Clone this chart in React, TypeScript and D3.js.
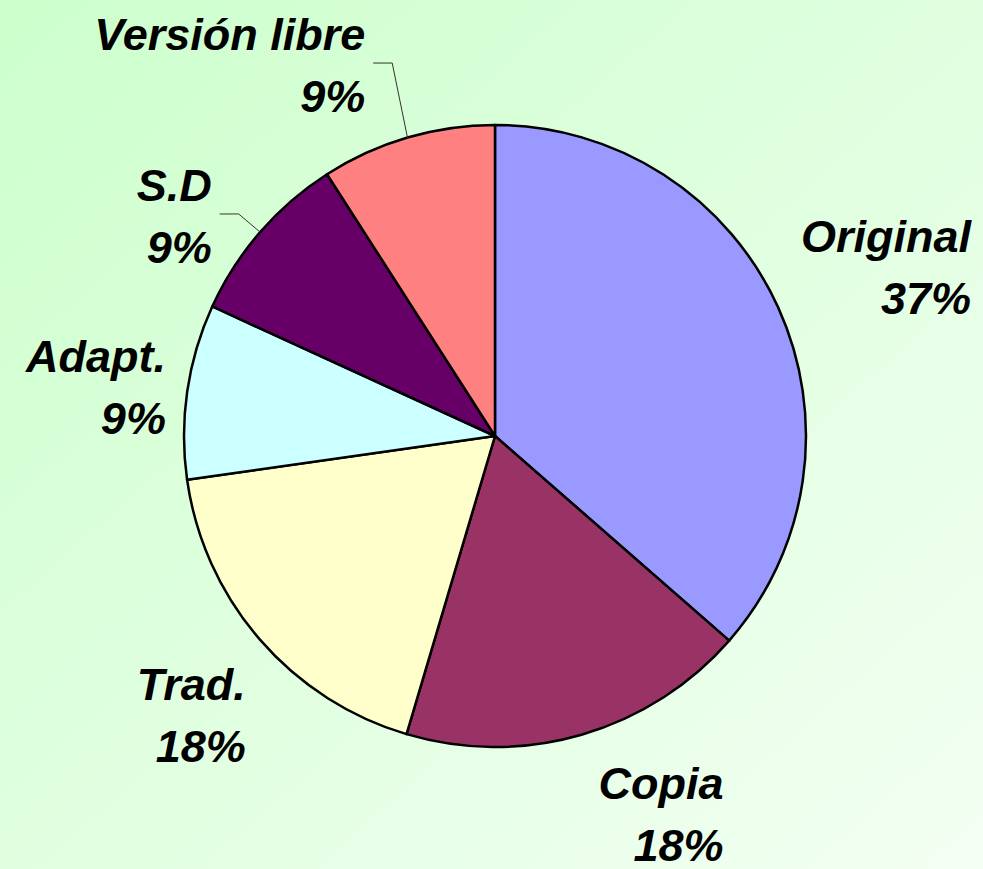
import React, { useEffect, useRef } from 'react';
import * as d3 from 'd3';

const categories = ['Original', 'Copia', 'Trad.', 'Adapt.', 'S.D', 'Versión libre'];
const shares = [36.5, 18.2, 18.2, 9.1, 9.1, 9.1];
const pctLabels = ['37%', '18%', '18%', '9%', '9%', '9%'];
const colors = ['#9999ff', '#993366', '#ffffcc', '#ccffff', '#660066', '#ff8080'];

// label anchor (right edge, first baseline) relative to the centroid at 1.3r
const labelNudge = [[108, -17], [116, -25], [57, 0], [71, -6], [22, 30], [-16, 2]];
const hasLeader = [false, false, false, false, true, true];

const App = () => {
    const ref = useRef<SVGSVGElement>(null);

    useEffect(() => {
        const width = 983;
        const height = 869;
        const cx = 495;
        const cy = 436;
        const r = 311;

        const svg = d3.select(ref.current);
        svg.selectAll('*').remove();

        const defs = svg.append('defs');
        const grad = defs.append('linearGradient')
            .attr('id', 'bg')
            .attr('x1', '0').attr('y1', '0')
            .attr('x2', '1').attr('y2', '1');
        grad.append('stop').attr('offset', '0%').attr('stop-color', '#ccffcc');
        grad.append('stop').attr('offset', '100%').attr('stop-color', '#f3fff3');

        svg.append('rect')
            .attr('width', width)
            .attr('height', height)
            .attr('fill', 'url(#bg)');

        const data = categories.map((c, i) => ({ name: c, value: shares[i], i }));
        const pie = d3.pie<any>().sort(null).value(d => d.value);
        const arcs = pie(data);
        const arc = d3.arc<any>().innerRadius(0).outerRadius(r);
        const labelArc = d3.arc<any>().innerRadius(r * 1.3).outerRadius(r * 1.3);
        const edgeArc = d3.arc<any>().innerRadius(r).outerRadius(r);

        const g = svg.append('g').attr('transform', `translate(${cx},${cy})`);

        g.selectAll('path.slice')
            .data(arcs)
            .enter()
            .append('path')
            .attr('class', 'slice')
            .attr('d', arc)
            .attr('fill', d => colors[d.data.i])
            .attr('stroke', '#000')
            .attr('stroke-width', 2.5)
            .attr('stroke-linejoin', 'round');

        arcs.forEach(d => {
            const i = d.data.i;
            const [lx, ly] = labelArc.centroid(d);
            const x = lx + labelNudge[i][0];
            const y = ly + labelNudge[i][1];

            if (hasLeader[i]) {
                const [ex, ey] = edgeArc.centroid(d);
                g.append('polyline')
                    .attr('points', `${ex},${ey} ${x + 27},${y + 13} ${x + 8},${y + 13}`)
                    .attr('fill', 'none')
                    .attr('stroke', '#333')
                    .attr('stroke-width', 1);
            }

            const t = g.append('text')
                .attr('x', x)
                .attr('y', y)
                .attr('text-anchor', 'end')
                .attr('font-family', '"Liberation Sans", Arial, sans-serif')
                .attr('font-weight', 'bold')
                .attr('font-style', 'italic')
                .attr('font-size', 45)
                .attr('fill', '#000');
            t.append('tspan').attr('x', x).attr('dy', 0).text(d.data.name);
            t.append('tspan').attr('x', x).attr('dy', 62).text(pctLabels[i]);
        });
    }, []);

    return (
        <svg
            ref={ref}
            width="983"
            height="869"
            style={{ position: 'absolute', left: 0, top: 0 }}
        ></svg>
    );
};

export default App;
